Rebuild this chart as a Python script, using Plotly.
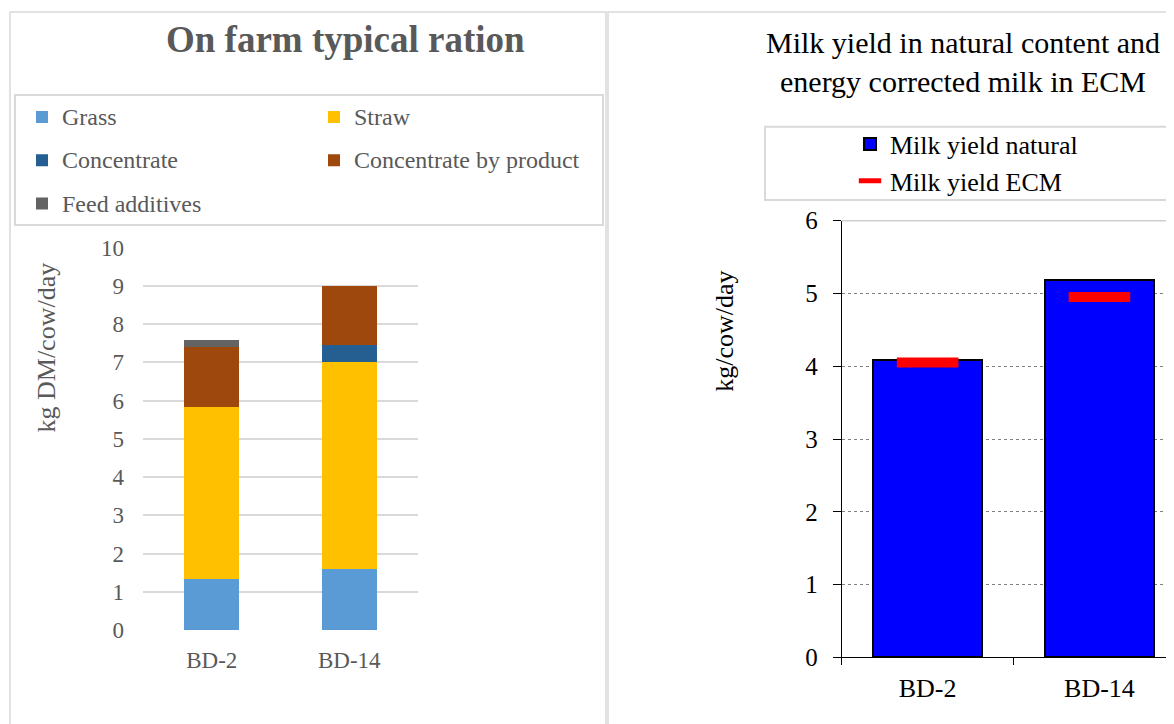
import plotly.graph_objects as go

# ---------------- data ----------------
categories = ["BD-2", "BD-14"]

grass = [1.33, 1.60]
straw = [4.51, 5.41]
concentrate = [0.0, 0.45]
conc_by_product = [1.57, 1.53]
feed_additives = [0.17, 0.0]

milk_natural = [4.09, 5.18]
milk_ecm = [4.05, 4.95]

left_ticks = list(range(0, 11))
right_ticks = list(range(0, 7))

left_title = "On farm typical ration"
right_title = "Milk yield in natural content and<br>energy corrected milk in ECM"
left_ytitle = "kg DM/cow/day"
right_ytitle = "kg/cow/day"

# ---------------- layout helpers ----------------
# the page body has an 8px margin, so the figure is drawn 8px in from the window edge
PAGE_OFF = 8
W, H = 1174 - PAGE_OFF, 724 - PAGE_OFF
ML = 30
GW = W - ML


def fx(px):
    """window x pixel -> paper fraction"""
    return (px - PAGE_OFF - ML) / GW


def fy(py):
    """window y pixel -> paper fraction"""
    return (H - (py - PAGE_OFF)) / H


SERIF = "Liberation Serif, Times New Roman, serif"
GRAY = "#595959"

fig = go.Figure()

series = [
    ("Grass", grass, "#5B9BD5"),
    ("Straw", straw, "#FFC000"),
    ("Concentrate", concentrate, "#255E91"),
    ("Concentrate by product", conc_by_product, "#9E480E"),
    ("Feed additives", feed_additives, "#636363"),
]
for name, vals, color in series:
    fig.add_trace(go.Bar(
        x=categories, y=vals,
        name=f"<span style='font-size:24px;baseline-shift:4px'>{name}</span>",
        marker=dict(color=color, line=dict(width=0)),
        width=0.4, xaxis="x", yaxis="y", legend="legend",
    ))

fig.add_trace(go.Bar(
    x=categories, y=milk_natural, name="Milk yield natural",
    marker=dict(color="#0000FF", line=dict(color="black", width=2)),
    width=0.63, xaxis="x2", yaxis="y2", legend="legend2",
))
fig.add_trace(go.Scatter(
    x=categories, y=milk_ecm, name="Milk yield ECM", mode="markers",
    marker=dict(symbol="line-ew", size=44, color="#FF0000",
                line=dict(color="#FF0000", width=10)),
    xaxis="x2", yaxis="y2", legend="legend2",
))

shapes = [
    # panel borders
    dict(type="rect", xref="paper", yref="paper", x0=fx(10), x1=fx(606), y0=fy(740), y1=fy(12),
         line=dict(color="#D9D9D9", width=1.5), layer="below"),
    dict(type="rect", xref="paper", yref="paper", x0=fx(608), x1=fx(1190), y0=fy(740), y1=fy(12),
         line=dict(color="#D9D9D9", width=1.5), layer="below"),
    # legend boxes
    dict(type="rect", xref="paper", yref="paper", x0=fx(15), x1=fx(603), y0=fy(225), y1=fy(95),
         line=dict(color="#D9D9D9", width=2), layer="below"),
    dict(type="rect", xref="paper", yref="paper", x0=fx(765), x1=fx(1190), y0=fy(200), y1=fy(126.7),
         line=dict(color="#D9D9D9", width=2), layer="below"),
    # right plot area top border
    dict(type="line", xref="x2 domain", yref="y2 domain", x0=0, x1=1, y0=1, y1=1,
         line=dict(color="#CFCFCF", width=1.5)),
]

annotations = [
    dict(text=f"<b>{left_title}</b>", xref="paper", yref="paper", x=fx(345), y=fy(39),
         xanchor="center", yanchor="middle", showarrow=False,
         font=dict(family=SERIF, size=37, color=GRAY)),
    dict(text=right_title, xref="paper", yref="paper", x=fx(963), y=fy(23.6),
         xanchor="center", yanchor="top", showarrow=False,
         font=dict(family=SERIF, size=30, color="black")),
    dict(text=left_ytitle, xref="paper", yref="paper", x=fx(46), y=fy(347.5), textangle=-90,
         xanchor="center", yanchor="middle", showarrow=False,
         font=dict(family=SERIF, size=26, color=GRAY)),
    dict(text=right_ytitle, xref="paper", yref="paper", x=fx(725), y=fy(331.7), textangle=-90,
         xanchor="center", yanchor="middle", showarrow=False,
         font=dict(family=SERIF, size=26, color="black")),
]

fig.update_layout(
    width=W, height=H,
    margin=dict(l=ML, r=0, t=0, b=0, autoexpand=False),
    paper_bgcolor="white", plot_bgcolor="white",
    barmode="stack", showlegend=True,
    font=dict(family=SERIF, color=GRAY),
    xaxis=dict(domain=[fx(143), fx(418)], type="category", showgrid=False, showline=False,
               ticks="", tickfont=dict(size=23, color=GRAY), ticklabelstandoff=14,
               anchor="y"),
    yaxis=dict(domain=[fy(630), fy(247.7)], range=[0, 10], tickvals=left_ticks,
               showgrid=True, gridcolor="#D9D9D9", gridwidth=2, zeroline=False, showline=False,
               ticks="", tickfont=dict(size=23, color=GRAY), ticklabelstandoff=18, anchor="x"),
    xaxis2=dict(domain=[fx(841.7), 1.0], type="category", range=[-0.5, 1.434],
                showline=True, linecolor="black", linewidth=1, ticks="outside",
                tickson="boundaries", ticklen=7, tickcolor="black", showgrid=False,
                tickfont=dict(size=26, color="black"), ticklabelstandoff=7, anchor="y2"),
    yaxis2=dict(domain=[fy(657.3), fy(220.7)], range=[0, 6], tickvals=right_ticks,
                showline=True, linecolor="black", linewidth=1, ticks="outside", ticklen=8,
                tickcolor="black", showgrid=True, gridcolor="#808080", griddash="dot",
                gridwidth=1, zeroline=False, tickfont=dict(size=25, color="black"),
                ticklabelstandoff=10, anchor="x2"),
    legend=dict(x=fx(22), y=fy(90.35), xanchor="left", yanchor="top", orientation="h",
                entrywidth=247, entrywidthmode="pixels", traceorder="normal",
                font=dict(size=31, color=GRAY, family=SERIF),
                bgcolor="rgba(0,0,0,0)", borderwidth=0),
    legend2=dict(x=fx(850), y=fy(120.6), xanchor="left", yanchor="top", orientation="v",
                 traceorder="normal", font=dict(size=26, color="black", family=SERIF),
                 bgcolor="rgba(0,0,0,0)", borderwidth=0),
    shapes=shapes,
    annotations=annotations,
)

fig.write_html("out.html")
